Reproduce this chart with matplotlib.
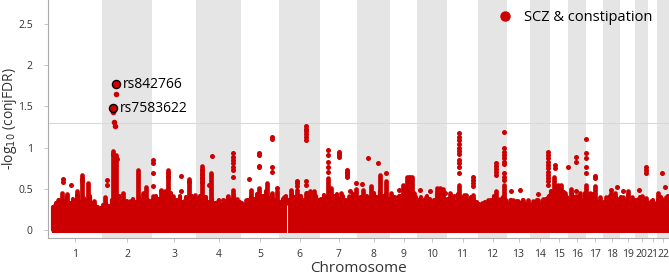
import numpy as np
import matplotlib.pyplot as plt
from matplotlib.lines import Line2D

plt.rcParams['font.family'] = ['Open Sans', 'DejaVu Sans']

# chromosome widths on the genome axis
chrom_names = [str(i) for i in range(1, 23)]
chrom_width = [54, 50, 44, 45, 38, 41, 37, 33, 27, 30, 31, 29, 23, 20, 18, 18, 17, 17, 15, 13, 9, 12]
# height of the solid mass of SNPs in each chromosome
base_top = [0.21, 0.22, 0.23, 0.24, 0.24, 0.24, 0.24, 0.24, 0.24, 0.23, 0.23, 0.22,
            0.22, 0.22, 0.23, 0.23, 0.23, 0.23, 0.22, 0.22, 0.22, 0.22]
# ragged fringe above the solid mass, evenly spread over each chromosome
fringe = [
    [0.28, 0.33, 0.37, 0.31, 0.35, 0.40, 0.33, 0.38, 0.36, 0.42, 0.34, 0.39, 0.37, 0.41, 0.33, 0.30, 0.28, 0.27],
    [0.30, 0.33, 0.29, 0.36, 0.34, 0.40, 0.33, 0.30, 0.35, 0.32, 0.38, 0.34, 0.40, 0.36, 0.33, 0.37, 0.35],
    [0.36, 0.42, 0.38, 0.44, 0.35, 0.40, 0.45, 0.38, 0.36, 0.42, 0.34, 0.40, 0.37, 0.41, 0.36],
    [0.38, 0.42, 0.36, 0.40, 0.34, 0.38, 0.33, 0.36, 0.32, 0.35, 0.40, 0.37, 0.42, 0.36, 0.34],
    [0.33, 0.30, 0.36, 0.42, 0.38, 0.44, 0.36, 0.41, 0.47, 0.39, 0.43, 0.37, 0.33],
    [0.34, 0.38, 0.42, 0.36, 0.44, 0.40, 0.38, 0.42, 0.36, 0.45, 0.40, 0.37, 0.41, 0.36],
    [0.38, 0.43, 0.40, 0.46, 0.41, 0.44, 0.38, 0.42, 0.36, 0.40, 0.44, 0.38],
    [0.36, 0.40, 0.38, 0.42, 0.39, 0.45, 0.40, 0.47, 0.42, 0.44, 0.38],
    [0.36, 0.40, 0.38, 0.42, 0.46, 0.50, 0.52, 0.44, 0.40],
    [0.36, 0.40, 0.37, 0.42, 0.38, 0.36, 0.44, 0.42, 0.38, 0.35],
    [0.38, 0.42, 0.36, 0.44, 0.40, 0.38, 0.36, 0.40, 0.38, 0.34],
    [0.32, 0.30, 0.34, 0.30, 0.36, 0.42, 0.38, 0.34, 0.40, 0.36],
    [0.32, 0.36, 0.30, 0.35, 0.33, 0.37, 0.32, 0.30],
    [0.30, 0.33, 0.36, 0.32, 0.35, 0.38, 0.42],
    [0.48, 0.44, 0.50, 0.42, 0.46, 0.40],
    [0.38, 0.44, 0.40, 0.42, 0.37, 0.45],
    [0.42, 0.38, 0.44, 0.36, 0.34, 0.32],
    [0.34, 0.38, 0.42, 0.36, 0.40, 0.37],
    [0.40, 0.36, 0.42, 0.38, 0.35],
    [0.36, 0.40, 0.38, 0.34],
    [0.33, 0.36, 0.32],
    [0.36, 0.40, 0.35, 0.42],
]
gap_pos = [238.7]

# dense columns of overlapping SNPs: genome position, top value
col_pos = [6, 10, 14, 19, 29, 34, 40, 46, 52,
           57, 65, 68, 71, 75, 82, 89.5, 95, 98,
           105, 109, 113, 117, 120, 125, 137, 141, 147,
           153.5, 157, 163, 170, 180, 185, 189,
           198, 203, 211, 219, 224, 229,
           236, 243, 249, 257.5, 262, 266,
           276, 279.7, 283, 287, 293, 301, 308,
           312, 315, 322.7, 326, 332, 338,
           343, 347, 351, 355, 359, 360.5, 362, 363.5, 366,
           372, 378, 389, 392, 395, 397,
           402, 410.5, 416, 418, 424.7,
           434, 440, 444, 448, 452, 456.3,
           462, 465, 470, 475, 480,
           485, 490, 495, 500.3,
           506, 510, 513, 517,
           523, 528, 532, 538,
           542, 547.3, 552,
           558, 563, 567, 570,
           575, 580, 584,
           590, 594, 598,
           603, 606,
           610, 614, 618]
col_top = [0.29, 0.37, 0.45, 0.44, 0.47, 0.67, 0.57, 0.35, 0.26,
           0.40, 0.96, 0.91, 0.37, 0.45, 0.35, 0.73, 0.45, 0.52,
           0.41, 0.36, 0.49, 0.48, 0.73, 0.41, 0.36, 0.62, 0.43,
           0.78, 0.40, 0.69, 0.35, 0.41, 0.49, 0.38,
           0.36, 0.49, 0.51, 0.57, 0.45, 0.47,
           0.40, 0.49, 0.49, 0.45, 0.47, 0.47,
           0.40, 0.63, 0.51, 0.40, 0.45, 0.42, 0.50,
           0.40, 0.49, 0.53, 0.42, 0.67, 0.60,
           0.45, 0.40, 0.42, 0.55, 0.64, 0.64, 0.64, 0.64, 0.45,
           0.38, 0.40, 0.51, 0.51, 0.50, 0.38,
           0.45, 0.55, 0.43, 0.43, 0.43,
           0.33, 0.37, 0.35, 0.47, 0.38, 0.55,
           0.37, 0.37, 0.35, 0.37, 0.36,
           0.35, 0.36, 0.38, 0.40,
           0.65, 0.55, 0.55, 0.45,
           0.50, 0.42, 0.45, 0.55,
           0.45, 0.53, 0.40,
           0.40, 0.45, 0.45, 0.38,
           0.40, 0.47, 0.40,
           0.38, 0.42, 0.39,
           0.35, 0.33,
           0.45, 0.38, 0.40]

# single SNPs above the mass: genome position, value
dot_pos = [15, 15, 23, 29, 34, 34,
           59, 59, 65, 68, 68.5, 71,
           105, 105, 105, 105, 113, 120, 120, 133, 133, 141,
           153.5, 153.5, 153.5, 153.5, 161, 163.5, 175,
           185, 185, 185, 185, 185, 185, 185,
           201, 211, 211, 211, 211, 224, 224, 224, 224, 229,
           249, 249, 249, 257.5, 257.5, 257.5, 257.5, 257.5, 257.5, 257.5, 257.5,
           279.7, 279.7, 279.7, 279.7, 279.7, 291, 291, 291, 291,
           298.7, 298.7, 298.7, 298.7, 298.7, 302, 308,
           314, 319.7, 329.7, 338, 351, 351,
           372, 382, 397,
           406, 410.5, 410.5, 410.5, 410.5, 410.5, 410.5, 410.5, 410.5, 410.5, 410.5, 410.5,
           424.7, 424.7, 424.7, 424.7,
           448, 448, 448, 448, 448,
           456.3, 456.3, 456.3, 456.3, 456.3, 456.3, 456.3, 456.3, 456.3, 456.3,
           463, 471.7, 490,
           500.3, 500.3, 500.3, 500.3, 500.3, 500.3, 500.3, 500.3, 500.3, 500.3, 500.3,
           507, 507, 519.7,
           527.7, 527.7, 527.7, 538, 538, 538, 538, 538,
           547.3, 547.3, 563, 569, 575, 590.7,
           598.3, 598.3, 598.3, 614.3, 616.7]
dot_val = [0.62, 0.58, 0.55, 0.43, 0.62, 0.60,
           0.61, 0.55, 0.92, 0.88, 0.86, 0.41,
           0.85, 0.81, 0.69, 0.53, 0.47, 0.69, 0.65, 0.66, 0.47, 0.58,
           0.73, 0.68, 0.63, 0.58, 0.55, 0.90, 0.36,
           0.93, 0.89, 0.85, 0.81, 0.77, 0.73, 0.64,
           0.62, 0.93, 0.91, 0.78, 0.76, 1.13, 1.11, 0.76, 0.71, 0.51,
           0.60, 0.57, 0.53, 1.26, 1.23, 1.20, 1.16, 1.13, 1.09, 0.60, 0.55,
           0.97, 0.91, 0.83, 0.77, 0.71, 0.95, 0.93, 0.91, 0.89,
           0.73, 0.71, 0.69, 0.67, 0.65, 0.47, 0.57,
           0.56, 0.87, 0.81, 0.69, 0.49, 0.42,
           0.49, 0.47, 0.45,
           0.42, 1.18, 1.13, 1.09, 1.05, 1.00, 0.96, 0.92, 0.85, 0.81, 0.77, 0.69,
           0.65, 0.61, 0.57, 0.53,
           0.81, 0.78, 0.74, 0.70, 0.67,
           1.19, 0.99, 0.95, 0.91, 0.87, 0.83, 0.80, 0.69, 0.65, 0.61,
           0.47, 0.49, 0.44,
           0.95, 0.91, 0.87, 0.83, 0.79, 0.75, 0.71, 0.67, 0.63, 0.59, 0.55,
           0.79, 0.75, 0.76,
           0.89, 0.83, 0.47, 1.11, 0.94, 0.87, 0.76, 0.69,
           0.66, 0.63, 0.49, 0.52, 0.48, 0.49,
           0.76, 0.73, 0.69, 0.69, 0.52]

# extra points of the chr2 tower above the threshold
hi_pos = [68, 65.3, 66, 66.5]
hi_val = [1.65, 1.43, 1.31, 1.26]

# lead SNPs
lead_pos = [67.7, 65.3]
lead_val = [1.77, 1.475]
lead_name = ['rs842766', 'rs7583622']

threshold = -np.log10(0.05)
red = '#CC0000'

starts = np.concatenate([[0], np.cumsum(chrom_width)[:-1]])
ends = np.cumsum(chrom_width)
mids = (starts + ends) / 2

fig = plt.figure(figsize=(6.69, 2.76), dpi=100)
ax = fig.add_axes([48 / 669, 38 / 276, 621 / 669, 238 / 276])

for i, (s, e) in enumerate(zip(starts, ends)):
    if i % 2 == 1:
        ax.axvspan(s, e, color='#E5E5E5', lw=0, zorder=0)

ax.axhline(threshold, color='#D9D9D9', lw=0.8, zorder=1)

# solid mass and its ragged top
fx, fy = [], []
for i, (s, e) in enumerate(zip(starts, ends)):
    s0 = s + 4 if i == 0 else s
    ax.fill_between([s0, e], -0.03, base_top[i], color=red, lw=0, zorder=2)
    n = len(fringe[i])
    fx.extend(np.linspace(s0 + 1, e - 1, n))
    fy.extend(fringe[i])
fr = ax.vlines(fx, 0, fy, color=red, lw=3.0, zorder=2)
fr.set_capstyle('round')
for g in gap_pos:
    ax.vlines(g, -0.03, 0.3, color='white', lw=0.8, zorder=2.5)

cols = ax.vlines(col_pos, 0, col_top, color=red, lw=3.4, zorder=3)
cols.set_capstyle('round')

ax.scatter(dot_pos, dot_val, s=13, color=red, lw=0, zorder=4)
ax.scatter(hi_pos, hi_val, s=16, color=red, lw=0, zorder=4)
ax.scatter(lead_pos, lead_val, s=34, color=red, edgecolors='black', linewidths=1.0, zorder=5)
for x, y, name in zip(lead_pos, lead_val, lead_name):
    ax.text(x + 7, y, name, fontsize=10, va='center', ha='left', zorder=6)

ax.set_xlim(0, ends[-1])
ax.set_ylim(-0.095, 2.79)
ax.set_xticks(mids)
ax.set_xticklabels(chrom_names)
ax.set_yticks([0, 0.5, 1, 1.5, 2, 2.5])
ax.set_yticklabels(['0', '0.5', '1', '1.5', '2', '2.5'])
ax.tick_params(labelsize=7.5, colors='#333333', length=3, width=0.6, color='#BBBBBB')
ax.tick_params(axis='y', pad=8)
ax.tick_params(axis='x', pad=5)
for sp in ['top', 'right']:
    ax.spines[sp].set_visible(False)
for sp in ['left', 'bottom']:
    ax.spines[sp].set_color('#AAAAAA')
    ax.spines[sp].set_linewidth(0.8)
ax.set_xlabel('Chromosome', fontsize=11, color='#333333', labelpad=1)
ax.set_ylabel('-log$_{10}$ (conjFDR)', fontsize=10, color='#333333')
ax.yaxis.set_label_coords(-0.046, 0.5)

handle = Line2D([], [], marker='o', ls='', color=red, markersize=6.5)
ax.legend([handle], ['SCZ & constipation'], loc='upper right', frameon=False,
          fontsize=10.5, handletextpad=0.3, borderaxespad=0.3, bbox_to_anchor=(0.99, 1.0))

fig.savefig('out.png', dpi=100)
